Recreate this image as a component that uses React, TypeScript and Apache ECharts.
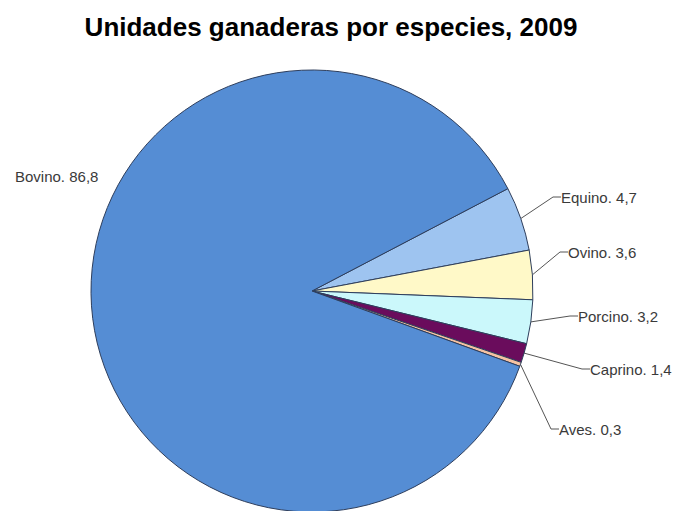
import React, { useEffect, useRef } from "react";
import * as echarts from "echarts";

const titleText = "Unidades ganaderas por especies, 2009";
const categories = ["Equino", "Ovino", "Porcino", "Caprino", "Aves", "Bovino"];
const values = [4.7, 3.6, 3.2, 1.4, 0.3, 86.8];
const sliceColors = ["#9EC4F0", "#FFF9C8", "#CBF8FB", "#6A0C5C", "#F6C2A2", "#558DD4"];
// label anchor (left x, vertical middle y) in pixels, layout only
const labelAnchors: [number, number][] = [
  [561, 197],
  [568, 252],
  [578, 316],
  [590, 369],
  [559, 429],
  [15, 176],
];

export default function App() {
  const ref = useRef<HTMLDivElement>(null);
  useEffect(() => {
    if (!ref.current) return;
    const chart = echarts.init(ref.current, undefined, { renderer: "svg" });
    const data = categories.map((name, i) => ({
      name,
      value: values[i],
      itemStyle: { color: sliceColors[i] },
      labelLine: { show: name !== "Bovino" },
    }));
    chart.setOption({
      animation: false,
      backgroundColor: "#ffffff",
      title: {
        text: titleText,
        left: 331,
        top: 14,
        padding: 0,
        textAlign: "center",
        textStyle: {
          fontFamily: "Liberation Sans, Arial, sans-serif",
          fontSize: 26,
          fontWeight: "bold",
          color: "#000000",
        },
      },
      series: [
        {
          type: "pie",
          center: [312, 291],
          radius: 221,
          startAngle: 27.6,
          clockwise: true,
          data,
          itemStyle: { borderColor: "#2E3E5C", borderWidth: 1 },
          label: {
            show: true,
            position: "outside",
            overflow: "none",
            fontFamily: "Liberation Sans, Arial, sans-serif",
            fontSize: 15,
            color: "#3A3A3A",
            formatter: (p: any) => `${p.name}. ${String(p.value).replace(".", ",")}`,
          },
          labelLine: {
            show: true,
            length: 10,
            length2: 8,
            lineStyle: { color: "#555555", width: 1 },
          },
          labelLayout: (params: any) => {
            const a = labelAnchors[params.dataIndex];
            return { x: a[0], y: a[1], align: "left", verticalAlign: "middle", width: 150 };
          },
          emphasis: { disabled: true },
        },
      ],
    });
    return () => chart.dispose();
  }, []);
  return (
    <div
      ref={ref}
      style={{ position: "fixed", left: 0, top: 0, width: 680, height: 511 }}
    />
  );
}
